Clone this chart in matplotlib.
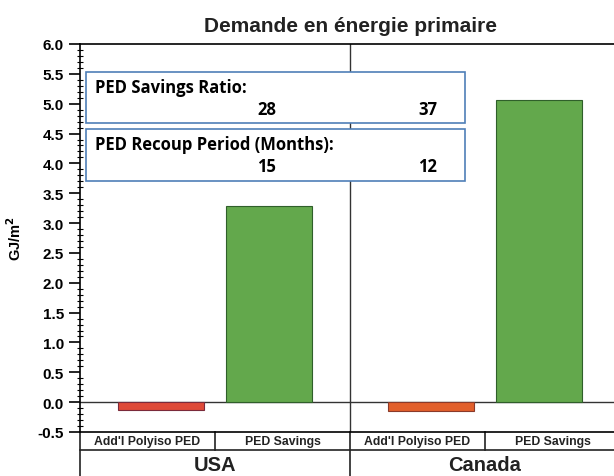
import matplotlib
matplotlib.use("Agg")
from matplotlib import pyplot as plt
from matplotlib.patches import Rectangle
from matplotlib.ticker import MultipleLocator

# ---------------- DATA ----------------
countries = ["USA", "Canada"]
bar_labels = ["Add'l Polyiso PED", "PED Savings"]
usa_values = [-0.13, 3.29]
canada_values = [-0.15, 5.06]
savings_ratio = [28, 37]
recoup_months = [15, 12]

plt.rcParams["font.family"] = ["Liberation Sans", "DejaVu Sans"]

fig = plt.figure(figsize=(6.14, 4.77), dpi=100)
ax = fig.add_axes([80 / 614, 44 / 477, 540 / 614, 388 / 477])

# ---------------- BARS ----------------
positions = [0.6, 1.4, 2.6, 3.4]
values = usa_values + canada_values
faces = ["#de4a38", "#63a84c", "#e2602c", "#63a84c"]
edges = ["#7a2a3a", "#2f5f2a", "#8a3a2a", "#2f5f2a"]
ax.bar(positions, values, width=0.64, color=faces, edgecolor=edges, linewidth=0.8, zorder=3)

ax.set_xlim(0, 4)
ax.axhline(0, color="#333333", lw=1, zorder=2)
ax.axvline(2, color="#333333", lw=1, zorder=2)

ax.spines["right"].set_visible(False)
for s in ["left", "top", "bottom"]:
    ax.spines[s].set_linewidth(1.2)
ax.set_xticks([])
yticks = [-0.5 + 0.5 * i for i in range(14)]
ax.set_yticks(yticks)
ax.set_yticklabels(["%.1f" % v for v in yticks], fontweight="bold")
ax.yaxis.set_minor_locator(MultipleLocator(0.1))
ax.tick_params(axis="y", which="major", direction="out", length=8, width=1.2, labelsize=11)
ax.tick_params(axis="y", which="minor", direction="inout", length=5, width=0.8)
ax.set_ylim(-0.5, 6.0)
ax.set_ylabel("GJ/m$^\\mathbf{2}$", fontsize=10.5, fontweight="bold", labelpad=10)

ax.set_title("Demande en énergie primaire", fontsize=15, fontweight="bold", pad=9, color="#222222")

# ---------------- CATEGORY TABLE BELOW ----------------
tr = ax.transAxes
row1 = -18 / 388
row2 = -44 / 388
ax.plot([0, 1.02], [row1, row1], transform=tr, color="#222222", lw=1.2, clip_on=False)
for xf, bottom in [(0, row2), (0.25, row1), (0.5, row2), (0.75, row1)]:
    ax.plot([xf, xf], [0, bottom], transform=tr, color="#222222", lw=1.2, clip_on=False)
for i, lab in enumerate(bar_labels * 2):
    ax.text(0.125 + 0.25 * i, -9.5 / 388, lab, transform=tr, ha="center", va="center",
            fontsize=8.8, fontweight="bold", color="#222222")
for i, c in enumerate(countries):
    ax.text(0.25 + 0.5 * i, -33 / 388, c, transform=tr, ha="center", va="center",
            fontsize=14.5, fontweight="bold", color="#222222")

# ---------------- INFO BOXES ----------------
box_font = ["Open Sans", "DejaVu Sans"]
boxes = [("PED Savings Ratio:", savings_ratio, 0.9286, 0.7964),
         ("PED Recoup Period (Months):", recoup_months, 0.781, 0.6477)]
for title, nums, top, bot in boxes:
    ax.add_patch(Rectangle((0.011, bot), 0.702, top - bot, transform=tr, facecolor="white",
                           edgecolor="#4f7fb8", lw=1.2, zorder=4))
    ax.text(0.027, top - 15.5 / 388, title, transform=tr, ha="left", va="center",
            fontsize=12, fontweight="bold", family=box_font, zorder=5)
    for xf, n in zip([0.346, 0.644], nums):
        ax.text(xf, top - 37.5 / 388, str(n), transform=tr, ha="center", va="center",
                fontsize=12, fontweight="bold", family=box_font, zorder=5)

fig.savefig("out.png", dpi=100)
